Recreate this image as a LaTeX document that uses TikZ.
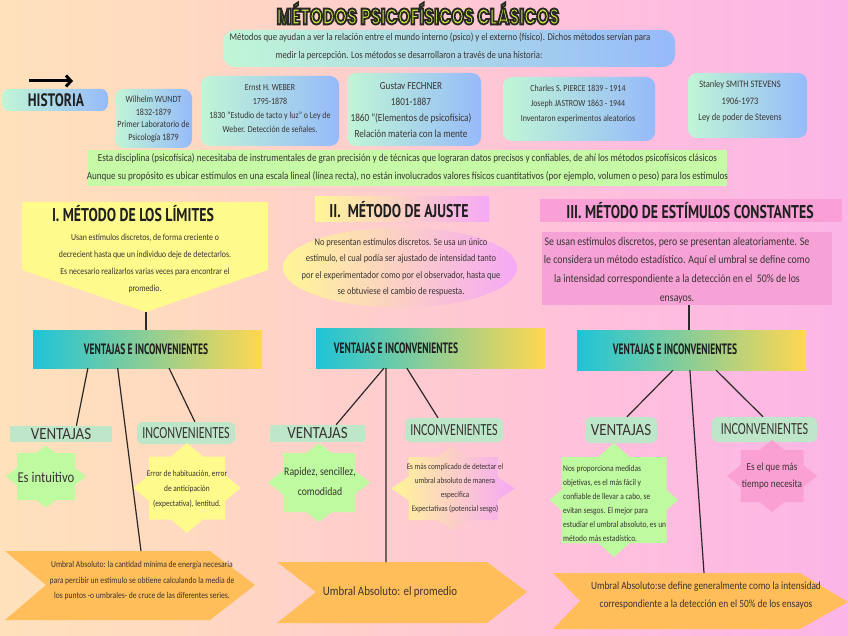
\documentclass[tikz,border=0pt]{standalone}
\usepackage{fontspec}
\setmainfont[FakeStretch=0.85]{Carlito}
\newfontfamily\headfont[FakeStretch=0.75]{PT Sans}
\newfontfamily\vifont[FakeStretch=0.635]{PT Sans}
\newfontfamily\titlefont[FakeStretch=0.72]{Poppins}
\newfontfamily\labfont[FakeStretch=0.71]{Carlito}
\newfontfamily\labfontw[FakeStretch=0.88]{Carlito}
\usetikzlibrary{calc,arrows.meta,shapes.geometric}
\definecolor{bgA}{RGB}{255,244,178}
\definecolor{bgB}{RGB}{255,218,192}
\definecolor{bgC}{RGB}{255,190,222}
\definecolor{bgD}{RGB}{245,165,244}
\definecolor{hA}{RGB}{192,246,214}
\definecolor{hB}{RGB}{150,186,250}
\definecolor{band}{RGB}{198,250,166}
\definecolor{yel}{RGB}{255,250,140}
\definecolor{ellA}{RGB}{255,246,150}
\definecolor{ellB}{RGB}{246,168,246}
\definecolor{pinkT}{RGB}{250,160,215}
\definecolor{pinkB}{RGB}{246,162,214}
\definecolor{viA}{RGB}{30,196,216}
\definecolor{viM}{RGB}{160,220,140}
\definecolor{viB}{RGB}{255,215,80}
\definecolor{mint}{RGB}{190,230,200}
\definecolor{lgreen}{RGB}{190,250,160}
\definecolor{pstar}{RGB}{250,160,210}
\definecolor{orng}{RGB}{255,190,90}
\definecolor{ink}{RGB}{58,52,52}
\definecolor{lineC}{RGB}{45,40,40}
\definecolor{ttlF}{RGB}{208,232,70}
\pgfdeclarehorizontalshading{bgshade}{100bp}{color(0bp)=(bgA); color(35bp)=(bgB); color(62bp)=(bgC); color(100bp)=(bgD)}
\newcommand\outlinetext[1]{\special{pdf:literal direct 2 Tr 1.8 w 0.16 0.16 0.14 RG}#1\special{pdf:literal direct 0 Tr 0.4 w}}
\newcommand\starfill[7]{%
 \pgfmathsetmacro\sxa{#6*(#7-#5)/#7}%
 \pgfmathsetmacro\sya{#7*(1-#4/#6)}%
 \path[#1] (#2,#3-#7) -- (#2+\sxa,#3-#5) -- (#2+#4,#3-#5) -- (#2+#4,#3-\sya) -- (#2+#6,#3) -- (#2+#4,#3+\sya) -- (#2+#4,#3+#5) -- (#2+\sxa,#3+#5) -- (#2,#3+#7) -- (#2-\sxa,#3+#5) -- (#2-#4,#3+#5) -- (#2-#4,#3+\sya) -- (#2-#6,#3) -- (#2-#4,#3-\sya) -- (#2-#4,#3-#5) -- (#2-\sxa,#3-#5) -- cycle;}
\begin{document}
\begin{tikzpicture}[x=1pt,y=-1pt,
 txt/.style={inner sep=0pt, text=ink, align=center},
 hist/.style={inner sep=0pt, rounded corners=9pt, left color=hA, right color=hB},
 head/.style={inner sep=0pt, text=black!88, font=\headfont\bfseries\fontsize{18.5}{18.5}\selectfont},
 ttl/.style={inner sep=0pt, font=\titlefont\bfseries\fontsize{22.5}{22.5}\selectfont},
 lab/.style={inner sep=0pt, fill=mint, text=ink, font=\labfont\fontsize{17}{17}\selectfont},
 labw/.style={lab, font=\labfontw\fontsize{17}{17}\selectfont},
 vibox/.style={inner sep=0pt, left color=viA, middle color=viM, right color=viB},
 vitxt/.style={inner sep=0pt, text=black!88, font=\vifont\bfseries\fontsize{15}{15}\selectfont},
 conn/.style={draw=lineC, line width=1.2pt},
 chev/.style={fill=orng}]
\shade[shading=bgshade] (0,0) rectangle (848,636);
\useasboundingbox (0,0) rectangle (848,636);

% title
\node[ttl, text=ttlF] (title) at (418,13.5) {\outlinetext{MÉTODOS PSICOFÍSICOS CLÁSICOS}};

% intro
\node[hist, minimum width=452, minimum height=37, rounded corners=12pt] (intro) at (449,48.5) {};
\node[txt, font=\fontsize{10.3}{12}\selectfont] (introT1) at (440,38) {Métodos que ayudan a ver la relación entre el mundo interno (psico) y el externo (físico). Dichos métodos servían para};
\node[txt, font=\fontsize{10.3}{12}\selectfont] (introT2) at (409,55.5) {medir la percepción. Los métodos se desarrollaron a través de una historia:};

% historia
\coordinate (arrS) at (29,81);
\coordinate (arrE) at (73,81);
\draw[line width=3pt, -{Straight Barb[length=5pt,width=11pt]}] (arrS) -- (arrE);
\node[hist, minimum width=106, minimum height=22, rounded corners=7pt] (hist) at (55,100) {};
\node[head, font=\headfont\bfseries\fontsize{18}{18}\selectfont] (histT) at (56,100.5) {HISTORIA};

\node[hist, minimum width=77, minimum height=59] (wundt) at (153.5,118.5) {};
\node[txt, font=\fontsize{9.5}{12.7}\selectfont] (wundtT) at (153.5,119) {Wilhelm WUNDT\\1832-1879\\Primer Laboratorio de\\Psicología 1879};
\node[hist, minimum width=138, minimum height=70] (weber) at (270,111) {};
\node[txt, font=\fontsize{9.3}{14}\selectfont] (weberT) at (270,108.5) {Ernst H. WEBER\\1795-1878\\1830 "Estudio de tacto y luz" o Ley de\\Weber. Detección de señales.};
\node[hist, minimum width=134, minimum height=73] (fechner) at (414,109.5) {};
\node[txt, font=\fontsize{10.8}{16}\selectfont] (fechnerT) at (411,110) {Gustav FECHNER\\1801-1887\\1860 "(Elementos de psicofísica)\\Relación materia con la mente};
\node[hist, minimum width=152, minimum height=64] (pierce) at (579,109) {};
\node[txt, font=\fontsize{9.3}{15}\selectfont] (pierceT) at (578,104) {Charles S. PIERCE 1839 - 1914\\Joseph JASTROW 1863 - 1944\\Inventaron experimentos aleatorios};
\node[hist, minimum width=119, minimum height=65] (stevens) at (747.5,105.5) {};
\node[txt, font=\fontsize{9.9}{16.5}\selectfont] (stevensT) at (740,101.5) {Stanley SMITH STEVENS\\1906-1973\\Ley de poder de Stevens};

% band
\node[fill=band, minimum width=639, minimum height=36, inner sep=0pt] (band) at (407.5,168) {};
\node[txt, font=\fontsize{10.7}{18}\selectfont] (bandT) at (407.5,168) {Esta disciplina (psicofísica) necesitaba de instrumentales de gran precisión y de técnicas que lograran datos precisos y confiables, de ahí los métodos psicofísicos clásicos\\Aunque su propósito es ubicar estímulos en una escala lineal (línea recta), no están involucrados valores físicos cuantitativos (por ejemplo, volumen o peso) para los estímulos};

% section I
\path[fill=yel] (22,202) -- (268,202) -- (268,270) -- (146,312) -- (22,270) -- cycle;
\coordinate (s1tip) at (146,312);
\node[head] (s1title) at (133,214) {I. MÉTODO DE LOS LÍMITES};
\node[txt, font=\fontsize{9.2}{17}\selectfont] (s1T) at (145,264) {Usan estímulos discretos, de forma creciente o\\decrecient hasta que un individuo deje de detectarlos.\\Es necesario realizarlos varias veces para encontrar el\\promedio.};

% section II
\node[inner sep=0pt, minimum width=174, minimum height=25, left color=ellA, right color=ellB] (s2box) at (402,209.5) {};
\node[head] (s2title) at (399,209.5) {II.\ \ MÉTODO DE AJUSTE};
\node[ellipse, inner sep=0pt, minimum width=234, minimum height=80, left color=ellA, right color=ellB] (s2ell) at (400,267.5) {};
\node[txt, font=\fontsize{10}{16.5}\selectfont] (s2T) at (401,267.5) {No presentan estímulos discretos. Se usa un único\\estímulo, el cual podía ser ajustado de intensidad tanto\\por el experimentador como por el observador, hasta que\\se obtuviese el cambio de respuesta.};

% section III
\node[inner sep=0pt, minimum width=302, minimum height=23, fill=pinkT] (s3box0) at (691,210.5) {};
\node[head] (s3title) at (690,211) {III. MÉTODO DE ESTÍMULOS CONSTANTES};
\node[inner sep=0pt, minimum width=290, minimum height=73, fill=pinkB] (s3box) at (687,268.5) {};
\node[txt, font=\fontsize{11.6}{18.7}\selectfont] (s3T) at (677,270) {Se usan estímulos discretos, pero se presentan aleatoriamente. Se\\le considera un método estadístico. Aquí el umbral se define como\\la intensidad correspondiente a la detección en el \ 50\% de los\\ensayos.};

% ventajas e inconvenientes boxes
\node[vibox, minimum width=229, minimum height=38] (vi1) at (147.5,349) {};
\node[vitxt] (vi1T) at (146,349.5) {VENTAJAS E INCONVENIENTES};
\node[vibox, minimum width=229, minimum height=40] (vi2) at (430.5,348) {};
\node[vitxt] (vi2T) at (396,348.5) {VENTAJAS E INCONVENIENTES};
\node[vibox, minimum width=229, minimum height=40] (vi3) at (691.5,350) {};
\node[vitxt] (vi3T) at (675,349.5) {VENTAJAS E INCONVENIENTES};

% labels
\node[labw, minimum width=102, minimum height=16] (v1) at (61,434) {VENTAJAS};
\node[lab, rounded corners=6pt, minimum width=98, minimum height=22] (i1) at (186,433) {INCONVENIENTES};
\node[labw, minimum width=95, minimum height=17] (v2) at (317.5,433.5) {VENTAJAS};
\node[lab, rounded corners=6pt, minimum width=98, minimum height=24] (i2) at (454,430) {INCONVENIENTES};
\node[labw, rounded corners=6pt, minimum width=72, minimum height=26] (v3) at (621,430) {VENTAJAS};
\node[lab, rounded corners=6pt, minimum width=105, minimum height=25] (i3) at (764.5,429.5) {INCONVENIENTES};

% stars
\starfill{fill=lgreen}{46}{476.5}{29}{23.5}{40}{31}
\node[txt, font=\fontsize{15}{15}\selectfont] (st1) at (46,477) {Es intuitivo};
\starfill{fill=yel}{187}{488}{38}{31.5}{53.5}{45}
\node[txt, font=\fontsize{8.7}{15}\selectfont] (st2) at (187,489) {Error de habituación, error\\de anticipación\\(expectativa), lentitud.};
\starfill{fill=lgreen}{319}{482.5}{36}{29.5}{51}{39.5}
\node[txt, font=\fontsize{11.5}{20}\selectfont] (st3) at (320,482) {Rapidez, sencillez,\\comodidad};
\starfill{shade, left color=ellA, right color=ellB}{453}{488.5}{44.5}{31.5}{61.5}{42}
\node[txt, font=\fontsize{8.4}{14}\selectfont] (st4) at (455,488) {Es más complicado de detectar el\\umbral absoluto de manera\\específica\\Expectativas (potencial sesgo)};
\starfill{fill=lgreen}{614}{500}{52.5}{43}{64}{57}
\node[txt, align=left, anchor=west, font=\fontsize{8.8}{14}\selectfont] (st5) at (563,503) {Nos proporciona medidas\\objetivas, es el más fácil y\\confiable de llevar a cabo, se\\evitan sesgos. El mejor para\\estudiar el umbral absoluto, es un\\método más estadístico.};
\starfill{fill=pstar}{772}{476}{31.5}{26}{45}{36}
\node[txt, font=\fontsize{10.9}{17}\selectfont] (st6) at (772,476.5) {Es el que más\\tiempo necesita};

% chevrons
\path[chev] (5,551) -- (210,551) -- (255,585) -- (210,620) -- (5,620) -- (46,585) -- cycle;
\coordinate (ch1top) at (141,551);
\node[txt, font=\fontsize{9}{15.5}\selectfont] (ch1T) at (142,581) {Umbral Absoluto: la cantidad mínima de energía necesaria\\para percibir un estímulo se obtiene calculando la media de\\los puntos -o umbrales- de cruce de las diferentes series.};
\path[chev] (277,562) -- (487,562) -- (527,592) -- (487,623) -- (277,623) -- (316,592) -- cycle;
\coordinate (ch2top) at (386,562);
\node[txt, font=\fontsize{12.8}{14}\selectfont] (ch2T) at (390,592) {Umbral Absoluto: el promedio};
\path[chev] (553,573) -- (800,573) -- (848,602) -- (800,629) -- (553,629) -- (580,601) -- cycle;
\coordinate (ch3top) at (704,573);
\node[txt, font=\fontsize{11}{18}\selectfont] (ch3T) at (706,596) {Umbral Absoluto:se define generalmente como la intensidad\\correspondiente a la detección en el 50\% de los ensayos};

% connectors
\draw[conn] (s1tip) -- (s1tip |- vi1.north);
\coordinate (s3b) at ($(s3box.south west)!0.507!(s3box.south east)$);
\draw[conn] (s3b) -- (s3b |- vi3.north);

\draw[conn] ($(vi1.south west)!0.24!(vi1.south east)$) -- ($(v1.north west)!0.65!(v1.north east)$);
\draw[conn] ($(vi1.south west)!0.37!(vi1.south east)$) -- (ch1top);
\draw[conn] ($(vi1.south west)!0.594!(vi1.south east)$) -- ($(i1.north west)!0.59!(i1.north east)$);

\draw[conn] ($(vi2.south west)!0.297!(vi2.south east)$) -- ($(v2.north west)!0.695!(v2.north east)$);
\draw[conn] ($(vi2.south west)!0.306!(vi2.south east)$) -- (ch2top);
\draw[conn] ($(vi2.south west)!0.397!(vi2.south east)$) -- ($(i2.north west)!0.337!(i2.north east)$);

\draw[conn] ($(vi3.south west)!0.419!(vi3.south east)$) -- ($(v3.north west)!0.583!(v3.north east)$);
\draw[conn] ($(vi3.south west)!0.493!(vi3.south east)$) -- (ch3top);
\draw[conn] ($(vi3.south west)!0.607!(vi3.south east)$) -- ($(i3.north west)!0.486!(i3.north east)$);
\end{tikzpicture}
\end{document}
